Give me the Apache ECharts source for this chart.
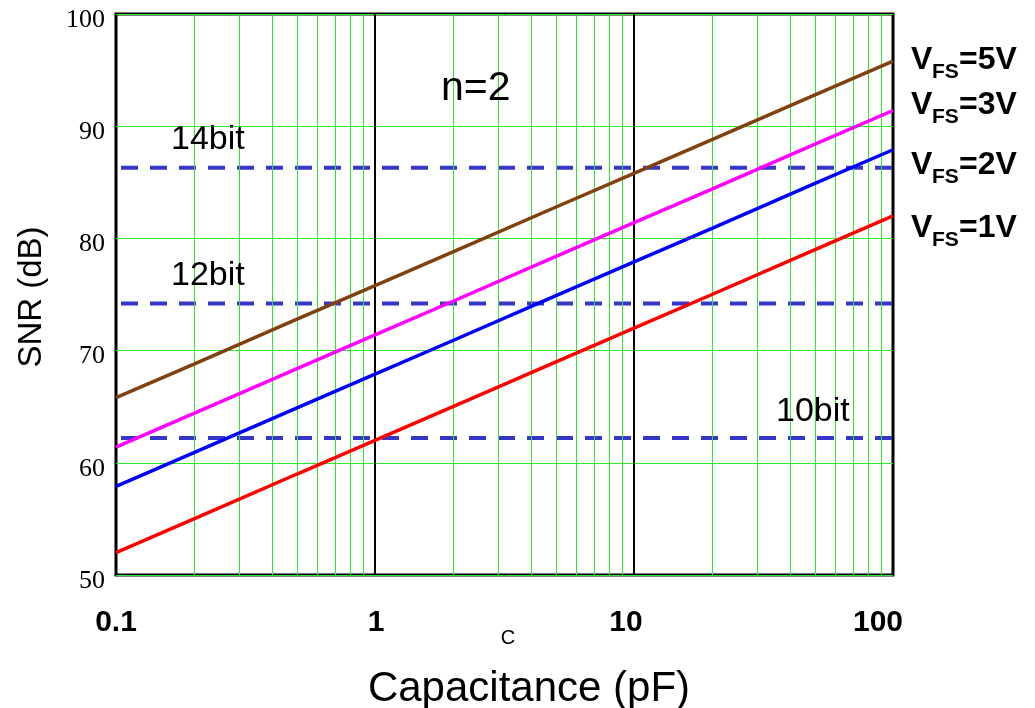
<!DOCTYPE html>
<html>
<head>
<meta charset="utf-8">
<script src="https://cdn.jsdelivr.net/npm/echarts@6/dist/echarts.min.js"></script>
<style>html,body{margin:0;padding:0;background:#fff;}#c{width:1035px;height:708px;}</style>
</head>
<body>
<div id="c"></div>
<script>
// Capacitance sample points (pF)
const capacitance = [0.1, 0.2, 0.5, 1, 2, 5, 10, 20, 50, 100];
// SNR (dB)
const snr5V = [65.8, 68.8, 72.8, 75.8, 78.8, 82.8, 85.8, 88.8, 92.8, 95.8];
const snr3V = [61.4, 64.4, 68.4, 71.4, 74.4, 78.4, 81.4, 84.4, 88.4, 91.4];
const snr2V = [57.9, 60.9, 64.9, 67.9, 70.9, 74.9, 77.9, 80.9, 84.9, 87.9];
const snr1V = [52.0, 55.0, 59.0, 62.0, 65.0, 69.0, 72.0, 75.0, 79.0, 82.0];
const seriesNames = ['5V', '3V', '2V', '1V'];
// Bit-resolution reference levels (dB)
const bitLevels = [86.3, 74.2, 62.2];
const bitLabels = ['14bit', '12bit', '10bit'];
// Axis ticks
const xTicks = [0.1, 1, 10, 100];
const xTickLabels = ['0.1', '1', '10', '100'];
const xMinorGrid = [0.2,0.3,0.4,0.5,0.6,0.7,0.8,0.9,2,3,4,5,6,7,8,9,20,30,40,50,60,70,80,90];
const xMajorGrid = [1, 10];

const colors = ['#80400f', '#ff00ff', '#0000ff', '#ff0000'];
const allSnr = [snr5V, snr3V, snr2V, snr1V];

const chart = echarts.init(document.getElementById('c'), null, {renderer: 'canvas'});

const pairs = arr => capacitance.map((c, i) => [c, arr[i]]);

const series = [];
series.push({
  type: 'line', data: [], silent: true, z: 1,
  markLine: {
    silent: true, symbol: 'none', label: {show: false}, animation: false,
    lineStyle: {color: '#2ee82e', width: 1, type: 'solid'},
    data: xMinorGrid.map(v => ({xAxis: v}))
  }
});
series.push({
  type: 'line', data: [], silent: true, z: 2,
  markLine: {
    silent: true, symbol: 'none', label: {show: false}, animation: false,
    lineStyle: {color: '#000', width: 2, type: 'solid'},
    data: xMajorGrid.map(v => ({xAxis: v}))
  }
});
bitLevels.forEach((lvl, i) => {
  series.push({
    name: bitLabels[i], type: 'line', z: 3, symbol: 'none', silent: true,
    data: [[0.1, lvl], [100, lvl]],
    lineStyle: {color: '#3636c8', width: 4, type: [17, 12], dashOffset: -5}
  });
});
allSnr.forEach((arr, i) => {
  series.push({
    name: seriesNames[i], type: 'line', z: 5, symbol: 'none', smooth: false,
    data: pairs(arr),
    lineStyle: {color: colors[i], width: 3.5}
  });
});

const xPad = {'0.1': [0,0,0,0], '1': [0,0,0,2], '10': [0,16,0,0], '100': [0,30,0,0]};

const vfsBaselines = [72, 117, 177, 240];
const vfsVals = ['5V', '3V', '2V', '1V'];
const lblFont = 'Liberation Sans, Arial';

const graphics = [];
vfsVals.forEach((v, i) => {
  const b = vfsBaselines[i];
  graphics.push({
    type: 'text', x: 911, y: b - 11.5, silent: true,
    style: {text: 'V', fontFamily: lblFont, fontWeight: 'bold', fontSize: 32, fill: '#000', align: 'left', verticalAlign: 'middle'}
  });
  graphics.push({
    type: 'text', x: 932, y: b + 0.5, silent: true,
    style: {text: 'FS', fontFamily: lblFont, fontWeight: 'bold', fontSize: 21, fill: '#000', align: 'left', verticalAlign: 'middle'}
  });
  graphics.push({
    type: 'text', x: 959, y: b - 11.5, silent: true,
    style: {text: '=' + v, fontFamily: lblFont, fontWeight: 'bold', fontSize: 32, fill: '#000', align: 'left', verticalAlign: 'middle'}
  });
});
const bitPos = [[171, 140], [171, 276], [776, 412]];
bitLabels.forEach((t, i) => {
  graphics.push({
    type: 'text', x: bitPos[i][0], y: bitPos[i][1], silent: true, z: 10,
    style: {text: t, fontFamily: lblFont, fontSize: 34, fill: '#000', align: 'left', verticalAlign: 'middle'}
  });
});
graphics.push({
  type: 'text', x: 441, y: 89, silent: true, z: 10,
  style: {text: 'n=2', fontFamily: lblFont, fontSize: 41, fill: '#000', align: 'left', verticalAlign: 'middle'}
});
graphics.push({
  type: 'text', x: 32, y: 297, rotation: Math.PI / 2, silent: true,
  style: {text: 'SNR (dB)', fontFamily: lblFont, fontSize: 33, fill: '#000', align: 'center', verticalAlign: 'middle'}
});
graphics.push({
  type: 'text', x: 529, y: 689, silent: true,
  style: {text: 'Capacitance (pF)', fontFamily: lblFont, fontSize: 42, fill: '#000', align: 'center', verticalAlign: 'middle'}
});
graphics.push({
  type: 'text', x: 508, y: 638, silent: true,
  style: {text: 'C', fontFamily: lblFont, fontSize: 20, fill: '#000', align: 'center', verticalAlign: 'middle'}
});

chart.setOption({
  animation: false,
  backgroundColor: '#fff',
  grid: {left: 116, right: 142, top: 14, bottom: 133, show: true, borderColor: '#000', borderWidth: 3, backgroundColor: '#fff'},
  xAxis: {
    type: 'log', logBase: 10, min: 0.1, max: 100,
    axisLine: {show: false}, axisTick: {show: false}, splitLine: {show: false},
    axisLabel: {
      margin: 33,
      formatter: v => {
        const k = Math.round(Math.log10(v)) + 1;
        const t = xTickLabels[k];
        return '{t' + k + '|' + t + '}';
      },
      rich: {
        t0: {fontFamily: lblFont, fontWeight: 'bold', fontSize: 30, color: '#000', padding: xPad['0.1']},
        t1: {fontFamily: lblFont, fontWeight: 'bold', fontSize: 30, color: '#000', padding: xPad['1']},
        t2: {fontFamily: lblFont, fontWeight: 'bold', fontSize: 30, color: '#000', padding: xPad['10']},
        t3: {fontFamily: lblFont, fontWeight: 'bold', fontSize: 30, color: '#000', padding: xPad['100']}
      }
    }
  },
  yAxis: {
    type: 'value', min: 50, max: 100, interval: 10,
    axisLine: {show: false}, axisTick: {show: false},
    splitLine: {show: true, lineStyle: {color: '#2ee82e', width: 1}},
    axisLabel: {
      margin: 11,
      formatter: v => '{y|' + v + '}',
      rich: {y: {fontFamily: 'Liberation Serif, Times New Roman', fontSize: 26, color: '#000', padding: [12,0,0,0]}}
    }
  },
  series: series,
  graphic: graphics
});
</script>
</body>
</html>
